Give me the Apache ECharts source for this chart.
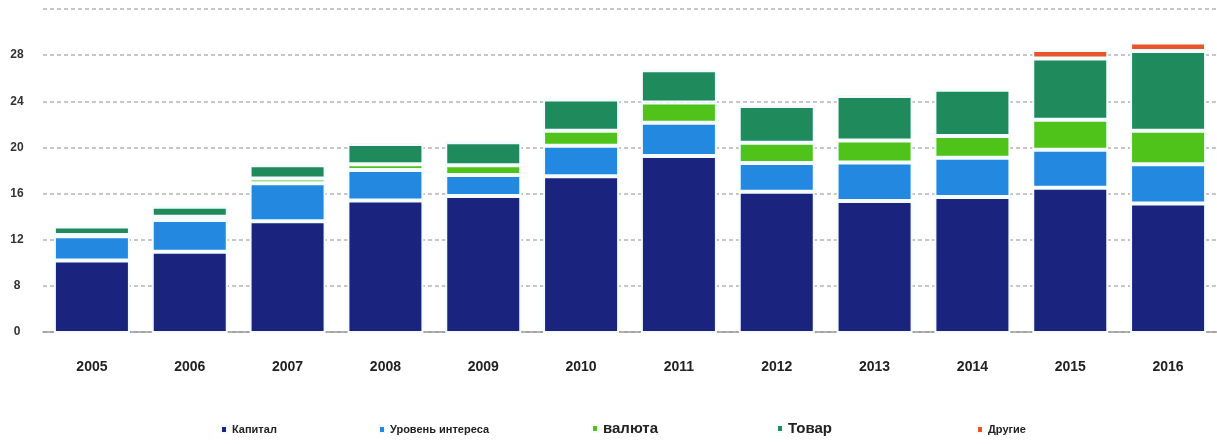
<!DOCTYPE html>
<html lang="ru">
<head>
    <meta charset="UTF-8">
    <title>Chart</title>
    <script src="https://cdn.jsdelivr.net/npm/echarts@6/dist/echarts.min.js"></script>
    <style>
        html, body { margin: 0; padding: 0; background: #fff; }
        #main { width: 1217px; height: 444px; }
    </style>
</head>
<body>
<div id="main"></div>
<script>
    // данные
    var years = ['2005', '2006', '2007', '2008', '2009', '2010', '2011', '2012', '2013', '2014', '2015', '2016'];
    var capital  = [10.2, 10.95, 13.6, 15.4, 15.8, 17.5, 19.25, 16.15, 15.35, 15.7, 16.5, 15.15];
    var interest = [2.1, 2.75, 3.3, 2.65, 1.8, 2.65, 2.9, 2.5, 3.35, 3.4, 3.3, 3.4];
    var currency = [0.1, 0.3, 0.4, 0.5, 0.85, 1.3, 1.75, 1.75, 1.9, 1.9, 2.6, 2.9];
    var goods    = [0.75, 0.85, 1.15, 1.75, 2.0, 2.7, 2.8, 3.2, 3.85, 4.0, 5.3, 6.9];
    var other    = [0, 0, 0, 0, 0, 0, 0, 0, 0, 0, 0.75, 0.75];

    var names = ['Капитал', 'Уровень интереса', 'валюта', 'Товар', 'Другие'];
    var colors = ['#1a237e', '#2389e0', '#4fc31a', '#1f8a5b', '#e8542a'];
    var values = [capital, interest, currency, goods, other];

    // легенда: у каждого пункта своё место и размер шрифта
    var legendLeft = [220, 378, 591, 776, 976];
    var legendFont = [11, 11, 15, 15, 11];

    var myChart = echarts.init(document.getElementById('main'));

    var series = [];
    for (var i = 0; i < names.length; i++) {
        series.push({
            name: names[i],
            type: 'bar',
            stack: 'total',
            barWidth: 76,
            itemStyle: {
                color: colors[i],
                borderColor: '#f4fbff',
                borderWidth: 2
            },
            data: values[i]
        });
    }

    var legends = [];
    for (var j = 0; j < names.length; j++) {
        legends.push({
            data: [names[j]],
            left: legendLeft[j],
            top: 432 - Math.round(legendFont[j] * 0.7),
            padding: 0,
            itemWidth: 6,
            itemHeight: 7,
            icon: 'rect',
            selectedMode: false,
            textStyle: {
                fontFamily: 'Liberation Sans',
                fontWeight: 'bold',
                fontSize: legendFont[j],
                color: '#222'
            }
        });
    }

    var option = {
        animation: false,
        color: colors,
        legend: legends,
        grid: {
            left: 43,
            right: 0,
            top: 9,
            bottom: 112
        },
        xAxis: {
            type: 'category',
            data: years,
            axisLine: { lineStyle: { color: '#9a9a9a', width: 1.5 } },
            axisTick: { show: false },
            axisLabel: {
                margin: 28,
                fontFamily: 'Liberation Sans',
                fontWeight: 'bold',
                fontSize: 14,
                color: '#222'
            }
        },
        yAxis: {
            type: 'value',
            min: 4,
            max: 32,
            interval: 4,
            axisLine: { show: false },
            axisTick: { show: false },
            splitLine: {
                lineStyle: { color: '#b4b4b4', type: [4, 3], width: 1.5 }
            },
            axisLabel: {
                margin: 26,
                align: 'center',
                fontFamily: 'Liberation Sans',
                fontWeight: 'bold',
                fontSize: 12,
                color: '#333',
                formatter: function (v) {
                    if (v === 4) return '0';
                    if (v === 32) return '';
                    return v;
                }
            }
        },
        series: series
    };

    myChart.setOption(option);
</script>
</body>
</html>
